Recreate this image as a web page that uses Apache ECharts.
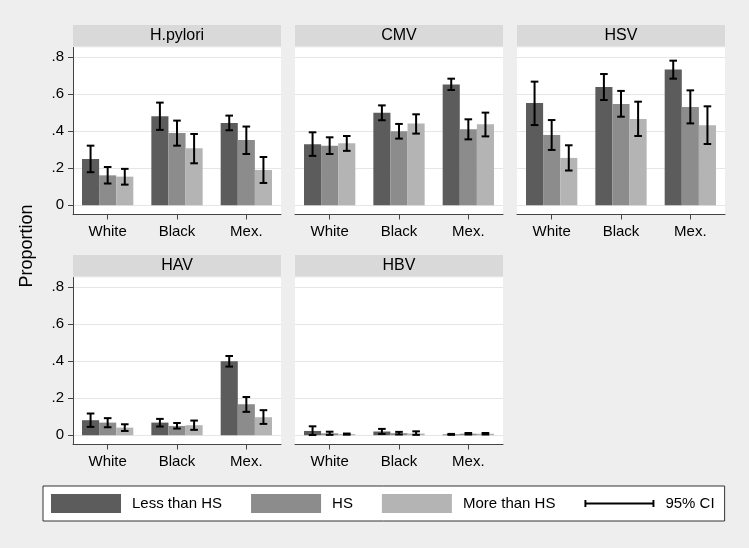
<!DOCTYPE html>
<html><head><meta charset="utf-8">
<script src="https://cdn.jsdelivr.net/npm/echarts@6/dist/echarts.min.js"></script>
<style>html,body{margin:0;padding:0;background:#eeeeee}#c{width:749px;height:548px}</style>
</head><body><div id="c"></div>
<script>
// ---- data ----
const categories = ['White', 'Black', 'Mex.'];
const panelNames = ['H.pylori', 'CMV', 'HSV', 'HAV', 'HBV'];
const levels = ['Less than HS', 'HS', 'More than HS'];
const yTicks = [0, 0.2, 0.4, 0.6, 0.8];

// rows: education level (Less than HS, HS, More than HS); cols: White, Black, Mex.
const hpyloriMean = [[0.249, 0.479, 0.443], [0.161, 0.389, 0.352], [0.154, 0.307, 0.190]];
const hpyloriLow  = [[0.178, 0.406, 0.404], [0.117, 0.321, 0.276], [0.111, 0.226, 0.120]];
const hpyloriHigh = [[0.321, 0.553, 0.483], [0.206, 0.456, 0.424], [0.196, 0.384, 0.260]];

const cmvMean = [[0.328, 0.499, 0.651], [0.321, 0.398, 0.409], [0.334, 0.440, 0.436]];
const cmvLow  = [[0.266, 0.458, 0.621], [0.276, 0.359, 0.355], [0.293, 0.386, 0.371]];
const cmvHigh = [[0.393, 0.538, 0.682], [0.366, 0.438, 0.463], [0.373, 0.490, 0.499]];

const hsvMean = [[0.551, 0.637, 0.732], [0.379, 0.546, 0.529], [0.255, 0.465, 0.431]];
const hsvLow  = [[0.432, 0.567, 0.682], [0.298, 0.477, 0.441], [0.187, 0.373, 0.330]];
const hsvHigh = [[0.666, 0.707, 0.779], [0.459, 0.616, 0.619], [0.323, 0.558, 0.533]];

const havMean = [[0.081, 0.068, 0.398], [0.068, 0.050, 0.167], [0.041, 0.054, 0.097]];
const havLow  = [[0.045, 0.047, 0.370], [0.043, 0.036, 0.126], [0.023, 0.029, 0.061]];
const havHigh = [[0.117, 0.088, 0.427], [0.092, 0.066, 0.206], [0.059, 0.079, 0.135]];

const hbvMean = [[0.023, 0.020, 0.004], [0.010, 0.011, 0.008], [0.006, 0.009, 0.008]];
const hbvLow  = [[0.001, 0.007, 0.002], [0.002, 0.004, 0.004], [0.003, 0.002, 0.004]];
const hbvHigh = [[0.048, 0.034, 0.007], [0.019, 0.018, 0.012], [0.009, 0.021, 0.012]];

const panelMeans = [hpyloriMean, cmvMean, hsvMean, havMean, hbvMean];
const panelLows  = [hpyloriLow, cmvLow, hsvLow, havLow, hbvLow];
const panelHighs = [hpyloriHigh, cmvHigh, hsvHigh, havHigh, hbvHigh];

// ---- style / layout ----
const colors = ['#5c5c5c', '#8c8c8c', '#b4b4b4'];
const FONT = '"Liberation Sans", Arial, sans-serif';
const AXIS = '#444444';
const gridLefts = [73, 295, 517, 73, 295];
const gridTops = [47.5, 47.5, 47.5, 277.5, 277.5];
const gridW = 208, gridH = 167;
const CAT_GAP = 0.26;

const chart = echarts.init(document.getElementById('c'), null, {renderer: 'canvas'});

const grids = [], xAxes = [], yAxes = [], series = [], graphics = [];
panelNames.forEach((name, p) => {
  const firstCol = (p === 0 || p === 3);
  grids.push({left: gridLefts[p], top: gridTops[p], width: gridW, height: gridH,
    show: true, backgroundColor: '#ffffff', borderWidth: 0, containLabel: false, outerBoundsMode: 'none'});
  xAxes.push({type: 'category', gridIndex: p, data: categories,
    axisLine: {show: true, onZero: false, lineStyle: {color: AXIS, width: 1}},
    axisTick: {show: true, alignWithLabel: true, length: 5, lineStyle: {color: AXIS, width: 1}},
    axisLabel: {fontSize: 15, color: '#000', margin: 10, fontFamily: FONT},
    splitLine: {show: false}});
  yAxes.push({type: 'value', gridIndex: p, min: -0.05, max: 0.85,
    axisLine: {show: firstCol, lineStyle: {color: AXIS, width: 1}},
    axisTick: {show: firstCol, length: 5, customValues: yTicks, lineStyle: {color: AXIS, width: 1}},
    axisLabel: {show: firstCol, customValues: yTicks, fontSize: 15, color: '#000', margin: 9, fontFamily: FONT,
      formatter: v => (v === 0 ? '0' : String(v).replace(/^0/, ''))},
    splitLine: {show: true, lineStyle: {color: '#e6e6e6', width: 1}}});
  levels.forEach((lv, l) => {
    series.push({type: 'bar', name: lv, xAxisIndex: p, yAxisIndex: p,
      data: panelMeans[p][l], itemStyle: {color: colors[l]},
      barGap: '0%', barCategoryGap: (CAT_GAP * 100) + '%', animation: false});
  });
  const ci = [];
  levels.forEach((lv, l) => categories.forEach((c, ci_) => {
    ci.push([ci_, l, panelLows[p][l][ci_], panelHighs[p][l][ci_]]);
  }));
  series.push({type: 'custom', name: '95% CI', xAxisIndex: p, yAxisIndex: p, z: 10,
    itemStyle: {color: '#000'}, animation: false,
    encode: {x: 0, y: [2, 3]}, data: ci,
    renderItem: (params, api) => {
      const c = api.value(0), l = api.value(1);
      const lo = api.coord([c, api.value(2)]);
      const hi = api.coord([c, api.value(3)]);
      const band = api.size([1, 0])[0];
      const bw = band * (1 - CAT_GAP) / 3;
      const x = lo[0] + (l - 1) * bw;
      const cap = 3.8;
      const st = {stroke: '#000', lineWidth: 2};
      return {type: 'group', children: [
        {type: 'line', shape: {x1: x, y1: lo[1], x2: x, y2: hi[1]}, style: st},
        {type: 'line', shape: {x1: x - cap, y1: hi[1], x2: x + cap, y2: hi[1]}, style: st},
        {type: 'line', shape: {x1: x - cap, y1: lo[1], x2: x + cap, y2: lo[1]}, style: st}
      ]};
    }});
  // header strip
  graphics.push({type: 'rect', shape: {x: gridLefts[p], y: gridTops[p] - 22.5, width: gridW, height: 21.5},
    style: {fill: '#d9d9d9'}, silent: true});
  graphics.push({type: 'text', x: gridLefts[p] + gridW / 2, y: gridTops[p] - 11.5,
    style: {text: name, fontSize: 16, fontFamily: FONT, fill: '#000',
      align: 'center', verticalAlign: 'middle', textAlign: 'center', textVerticalAlign: 'middle'}, silent: true});
});

graphics.push({type: 'text', x: 27, y: 246, rotation: Math.PI / 2,
  style: {text: 'Proportion', fontSize: 18, fontFamily: FONT, fill: '#000',
    align: 'center', verticalAlign: 'middle', textAlign: 'center', textVerticalAlign: 'middle'}, silent: true});

chart.setOption({
  backgroundColor: '#eeeeee',
  animation: false,
  grid: grids, xAxis: xAxes, yAxis: yAxes, series: series,
  graphic: graphics,
  legend: {show: true, left: 43, top: 486, orient: 'horizontal',
    itemWidth: 70, itemHeight: 19, itemGap: 29, padding: [8, 10, 8, 8],
    backgroundColor: '#ffffff', borderColor: '#333333', borderWidth: 1,
    selectedMode: false,
    textStyle: {fontSize: 15, color: '#000', fontFamily: FONT, padding: [0, 0, 0, 6]},
    data: [
      {name: 'Less than HS', icon: 'rect'},
      {name: 'HS', icon: 'rect'},
      {name: 'More than HS', icon: 'rect'},
      {name: '95% CI', icon: 'path://M0,0h2v7h-2z M2,2.5h68v2h-68z M70,0h2v7h-2z'}
    ]}
});
</script></body></html>
